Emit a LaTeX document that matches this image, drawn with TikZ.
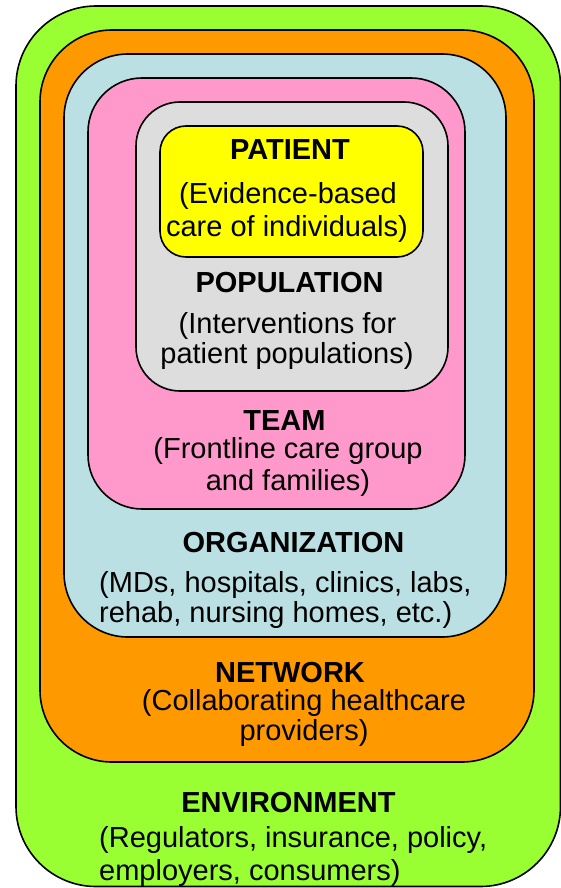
\documentclass[tikz,border=0pt]{standalone}
\usepackage{fontspec}
\setmainfont{Liberation Sans}
\definecolor{envgreen}{RGB}{153,255,51}
\definecolor{netorange}{RGB}{255,153,0}
\definecolor{orgblue}{RGB}{186,224,227}
\definecolor{teampink}{RGB}{255,153,204}
\definecolor{popgray}{RGB}{221,221,221}
\definecolor{patyellow}{RGB}{255,255,0}
\tikzset{
  ring/.style={draw=black, line width=1.6pt, rounded corners=#1},
  txt/.style={anchor=base, inner sep=0pt, font=\fontsize{29}{33}\selectfont},
  ttl/.style={anchor=base, inner sep=0pt, font=\fontsize{29}{33}\selectfont\bfseries}
}
\begin{document}
\begin{tikzpicture}[x=1pt,y=-1pt]
\useasboundingbox (0,0) rectangle (561,888);
\begin{scope}
\clip (0,0) rectangle (561,888);
\draw[ring=80pt, fill=envgreen] (16,6) rectangle (560.5,886.5);
\end{scope}
\draw[ring=72pt, fill=netorange] (40,30) rectangle (534,762);
\draw[ring=64pt, fill=orgblue] (64,54) rectangle (506,637);
\draw[ring=54pt, fill=teampink] (88,78) rectangle (465,509);
\draw[ring=44pt, fill=popgray] (136,102) rectangle (448,391);
\draw[ring=26pt, fill=patyellow] (160,126) rectangle (423,257);

\node[ttl] (patient) at (290,159) {PATIENT};
\node[txt] (patient1) at (288,203) {(Evidence-based};
\node[txt] (patient2) at (287,236) {care of individuals)};
\node[ttl] (population) at (289.5,292) {POPULATION};
\node[txt] (pop1) at (287.5,333) {(Interventions for};
\node[txt] (pop2) at (287,363) {patient populations)};
\node[ttl] (team) at (284.5,430) {TEAM};
\node[txt] (team1) at (288,458) {(Frontline care group};
\node[txt] (team2) at (288,490) {and families)};
\node[ttl] (org) at (293.5,552) {ORGANIZATION};
\node[txt, anchor=base west] (org1) at (99,592) {(MDs, hospitals, clinics, labs,};
\node[txt, anchor=base west] (org2) at (99,622) {rehab, nursing homes, etc.)};
\node[ttl] (net) at (290,682) {NETWORK};
\node[txt] (net1) at (304,710) {(Collaborating healthcare};
\node[txt] (net2) at (304,740) {providers)};
\node[ttl] (env) at (288.5,812) {ENVIRONMENT};
\node[txt, anchor=base west] (env1) at (99,847) {(Regulators, insurance, policy,};
\node[txt, anchor=base west] (env2) at (99,880) {employers, consumers)};
\end{tikzpicture}
\end{document}
